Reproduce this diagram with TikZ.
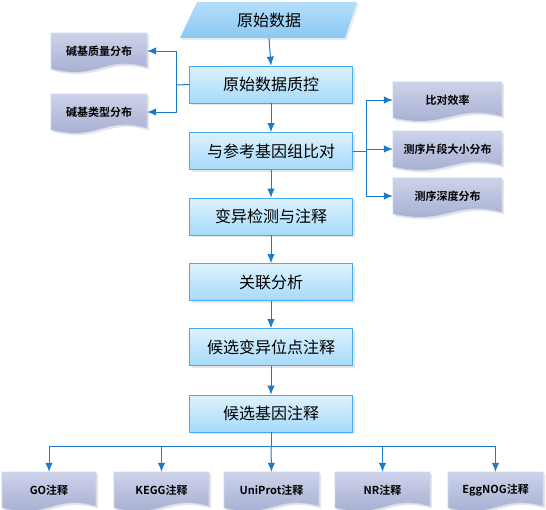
\documentclass[tikz,border=0pt]{standalone}
\usepackage{fontspec}
\setmainfont{Noto Sans CJK SC}
\newfontfamily\cjkb{Noto Sans CJK SC}[BoldFont={* Bold}]
\usetikzlibrary{arrows.meta,shadows}
\definecolor{arrowblue}{HTML}{1B7BC8}
\definecolor{boxedge}{HTML}{45AAF0}
\definecolor{boxtop}{HTML}{DDF2FE}
\definecolor{boxbot}{HTML}{A6DAF9}
\definecolor{doctop}{HTML}{CDD3EA}
\definecolor{docbot}{HTML}{A0A8CD}
\definecolor{docedge}{HTML}{C8D8F0}
\definecolor{rawtop}{HTML}{B4DEFB}
\definecolor{rawbot}{HTML}{8CC8F4}
\tikzset{
  mainbox/.style={rectangle, draw=boxedge, line width=0.8pt, top color=boxtop, bottom color=boxbot,
    minimum width=163pt, minimum height=37pt, inner sep=0pt, font=\fontsize{16}{19}\selectfont,
    drop shadow={opacity=0.2, shadow xshift=2pt, shadow yshift=-2pt}},
  docshape/.style={draw=docedge, line width=0.6pt, top color=doctop, bottom color=docbot,
    drop shadow={opacity=0.2, shadow xshift=2pt, shadow yshift=-2pt}},
  doclabel/.style={rectangle, inner sep=0pt, font=\cjkb\bfseries\fontsize{11}{13}\selectfont},
  arr/.style={draw=arrowblue, line width=1pt, -{Latex[length=9pt,width=7.5pt]}},
  conn/.style={draw=arrowblue, line width=1pt}
}
% #1 name, #2 x1, #3 y1, #4 width, #5 height, #6 text
\newcommand{\mydoc}[6]{%
  \path[docshape] (#2,#3) -- ({#2+#4},#3) -- ({#2+#4},{#3+0.86*#5})
     .. controls ({#2+0.55*#4},{#3+0.55*#5}) and ({#2+0.5*#4},{#3+1.2*#5}) .. (#2,{#3+0.9*#5}) -- cycle;
  \node[doclabel, minimum width=#4 pt, minimum height={0.9*#5 pt}] (#1) at ({#2+0.5*#4},{#3+0.45*#5}) {#6};
}
\begin{document}
\begin{tikzpicture}[x=1pt,y=-1pt]
\useasboundingbox (0,0) rectangle (546,509);
% raw data parallelogram
\path[top color=rawtop, bottom color=rawbot, drop shadow={opacity=0.15, shadow xshift=2pt, shadow yshift=-2pt}]
  (180,38) -- (197,2) -- (357,2) -- (345,38) -- cycle;
\node[rectangle, inner sep=0pt, minimum width=150pt, minimum height=36pt, font=\fontsize{16}{19}\selectfont] (raw) at (269,20) {原始数据};
% main boxes
\node[mainbox] (qc) at (271,84.5) {原始数据质控};
\node[mainbox] (al) at (271,151) {与参考基因组比对};
\node[mainbox] (vd) at (271,216.5) {变异检测与注释};
\node[mainbox] (as) at (271,282) {关联分析};
\node[mainbox] (cv) at (271,347) {候选变异位点注释};
\node[mainbox] (cg) at (271,413.5) {候选基因注释};
% left docs
\mydoc{q1}{51}{33}{96}{40}{碱基质量分布}
\mydoc{q2}{51}{94}{96}{40}{碱基类型分布}
% right docs
\mydoc{r1}{393}{82}{109}{40}{比对效率}
\mydoc{r2}{393}{131}{109}{40}{测序片段大小分布}
\mydoc{r3}{393}{178}{109}{40}{测序深度分布}
% bottom docs
\mydoc{d1}{2}{472}{94}{40}{GO注释}
\mydoc{d2}{114}{472}{95}{40}{KEGG注释}
\mydoc{d3}{224}{472}{95}{40}{UniProt注释}
\mydoc{d4}{335}{472}{95}{40}{NR注释}
\mydoc{d5}{448}{472}{95}{40}{EggNOG注释}
% main chain
\draw[arr] (raw.south) -- (qc.north);
\draw[arr] (qc.south) -- (al.north);
\draw[arr] (al.south) -- (vd.north);
\draw[arr] (vd.south) -- (as.north);
\draw[arr] (as.south) -- (cv.north);
\draw[arr] (cv.south) -- (cg.north);
% left branch
\coordinate (lj) at (176,85);
\draw[conn] (qc.west) -- (lj);
\draw[arr] (lj) |- (q1.east);
\draw[arr] (lj) |- (q2.east);
% right branch
\coordinate (rj) at (366,151);
\draw[conn] (al.east) -- (rj);
\draw[arr] (rj) |- (r1.west);
\draw[arr] (rj) |- (r2.west);
\draw[arr] (rj) |- (r3.west);
% bottom branch
\coordinate (bj) at (271,446);
\draw[conn] (cg.south) -- (bj);
\draw[arr] (bj) -| (d1.north);
\draw[arr] (bj) -| (d2.north);
\draw[arr] (bj) -- (d3.north);
\draw[arr] (bj) -| (d4.north);
\draw[arr] (bj) -| (d5.north);
\end{tikzpicture}
\end{document}
